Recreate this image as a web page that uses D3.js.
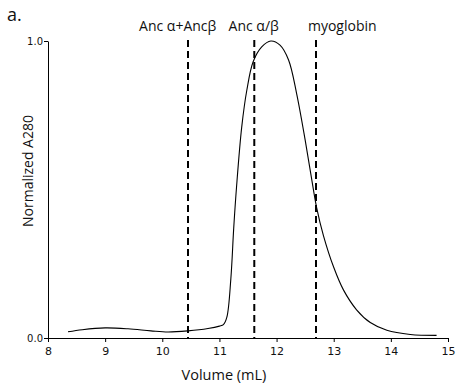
<!DOCTYPE html>
<html lang="en">
<head>
    <meta charset="UTF-8">
    <title>Elution Profile</title>
    <script src="https://d3js.org/d3.v7.min.js"></script>
    <style>
        body { margin: 0; background: #fff; }
        text { fill: #111; }
    </style>
</head>
<body>
    <svg id="chart" width="458" height="389"></svg>
    <script>
        // elution volume (mL) and normalized absorbance
        const volume = [8.35, 8.6, 9.0, 9.4, 9.8, 10.1, 10.45, 10.8, 11.0, 11.07, 11.13, 11.2, 11.25, 11.3, 11.39, 11.48, 11.59, 11.74, 11.9, 12.06, 12.21, 12.35, 12.5, 12.61, 12.7, 12.82, 13.0, 13.17, 13.4, 13.64, 13.93, 14.34, 14.8];
        const a280 = [0.021, 0.028, 0.034, 0.031, 0.024, 0.020, 0.024, 0.032, 0.040, 0.045, 0.07, 0.2, 0.37, 0.51, 0.71, 0.835, 0.93, 0.98, 1.0, 0.986, 0.936, 0.824, 0.667, 0.54, 0.44, 0.345, 0.238, 0.162, 0.095, 0.052, 0.026, 0.012, 0.009];

        // standards marked with dashed lines
        const markerNames = ["Anc \u03b1+Anc\u03b2", "Anc \u03b1/\u03b2", "myoglobin"];
        const markerVolumes = [10.45, 11.61, 12.69];
        const markerLabelX = [10.27, 11.6, 13.15];

        const xTicks = [8, 9, 10, 11, 12, 13, 14, 15];
        const yTicks = [0, 1];

        const svg = d3.select("#chart");
        const margin = { top: 41, right: 10, bottom: 51, left: 48 };
        const width = +svg.attr("width");
        const height = +svg.attr("height");

        const x = d3.scaleLinear().domain([8, 15]).range([margin.left, width - margin.right]);
        const y = d3.scaleLinear().domain([0, 1]).range([height - margin.bottom, margin.top]);

        const tickFont = "DejaVu Sans, sans-serif";
        const labelFont = "Open Sans, sans-serif";

        svg.append("g")
            .attr("transform", `translate(0,${y(0)})`)
            .call(d3.axisBottom(x).tickValues(xTicks).tickFormat(d3.format("d")).tickSize(4).tickSizeOuter(0))
            .call(g => g.selectAll("text").attr("font-family", tickFont).attr("font-size", 11).attr("dy", "0.9em"))
            .call(g => g.selectAll("path,line").attr("stroke", "#000"));

        svg.append("g")
            .attr("transform", `translate(${margin.left},0)`)
            .call(d3.axisLeft(y).tickValues(yTicks).tickFormat(d3.format(".1f")).tickSize(4).tickSizeOuter(0))
            .call(g => g.selectAll("text").attr("font-family", tickFont).attr("font-size", 10).attr("x", -5))
            .call(g => g.selectAll("path,line").attr("stroke", "#000"));

        svg.append("g").selectAll("line")
            .data(markerVolumes)
            .join("line")
            .attr("x1", d => x(d)).attr("x2", d => x(d))
            .attr("y1", y(1) - 1).attr("y2", y(0))
            .attr("stroke", "#000")
            .attr("stroke-width", 2)
            .attr("stroke-dasharray", "7,4");

        svg.append("g").selectAll("text")
            .data(markerNames)
            .join("text")
            .attr("x", (d, i) => x(markerLabelX[i]))
            .attr("y", 31)
            .attr("text-anchor", "middle")
            .attr("font-family", labelFont)
            .attr("font-size", 14)
            .text(d => d);

        const line = d3.line()
            .x((d, i) => x(volume[i]))
            .y(d => y(d))
            .curve(d3.curveCatmullRom.alpha(0.5));

        svg.append("path")
            .datum(a280)
            .attr("d", line)
            .attr("fill", "none")
            .attr("stroke", "#000")
            .attr("stroke-width", 1.1);

        svg.append("text")
            .attr("x", 224)
            .attr("y", 380)
            .attr("text-anchor", "middle")
            .attr("font-family", labelFont)
            .attr("font-size", 14.5)
            .text("Volume (mL)");

        svg.append("text")
            .attr("transform", "rotate(-90)")
            .attr("x", -171)
            .attr("y", 33)
            .attr("text-anchor", "middle")
            .attr("font-family", labelFont)
            .attr("font-size", 14)
            .text("Normalized A280");

        svg.append("text")
            .attr("x", 7)
            .attr("y", 21)
            .attr("font-family", labelFont)
            .attr("font-size", 18)
            .text("a.");
    </script>
</body>
</html>
